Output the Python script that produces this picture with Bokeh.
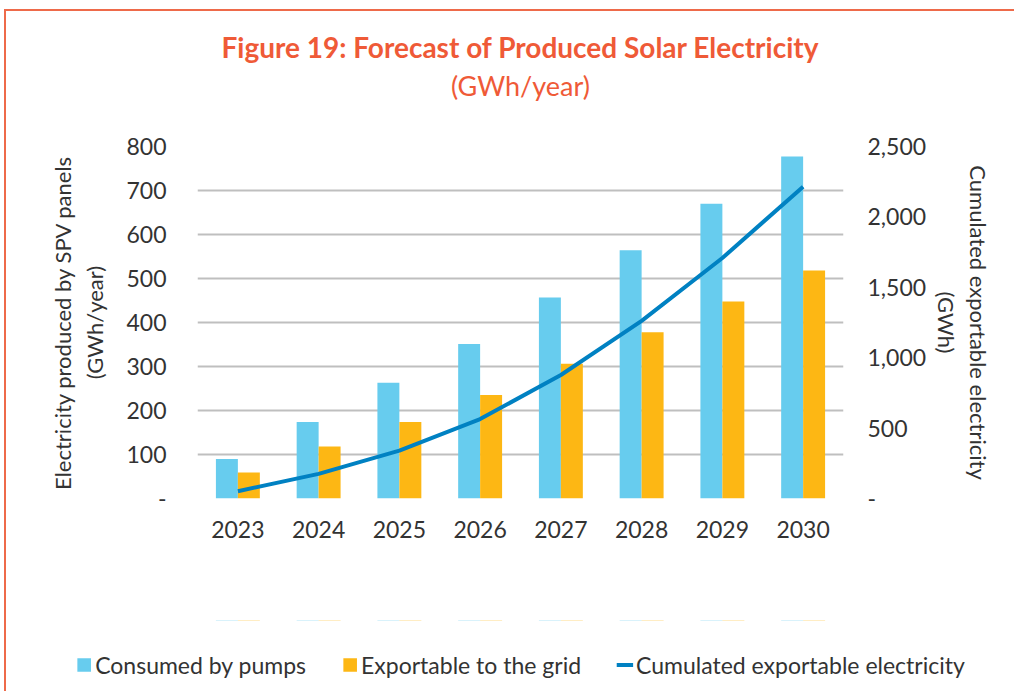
from bokeh.plotting import figure
from bokeh.layouts import column
from bokeh.models import (FactorRange, Range1d, LinearAxis, FixedTicker, Legend,
                          LegendItem, ColumnDataSource, CustomJSTickFormatter, Title)
from bokeh.transform import dodge
from bokeh.embed import file_html
from bokeh.resources import INLINE

years = ["2023", "2024", "2025", "2026", "2027", "2028", "2029", "2030"]
consumed_by_pumps = [90, 174, 263, 351, 457, 564, 670, 777]
exportable_to_grid = [59, 118, 174, 235, 306, 378, 448, 518]
cumulated_exportable = [52, 175, 340, 564, 877, 1262, 1708, 2215]
left_ticks = [0, 100, 200, 300, 400, 500, 600, 700, 800]
right_ticks = [0, 500, 1000, 1500, 2000, 2500]

TITLE_COLOR = "#EF5A37"
BORDER_COLOR = "#EE6A4A"
TEXT_COLOR = "#333333"
CYAN = "#67CCEE"
ORANGE = "#FDB714"
BLUE = "#0081C2"
FONT = "Lato"

src = ColumnDataSource(dict(years=years, consumed=consumed_by_pumps,
                            exportable=exportable_to_grid, cumulated=cumulated_exportable))

# ---------------- main chart ----------------
p = figure(x_range=FactorRange(*years), y_range=Range1d(0, 800),
           frame_width=646, frame_height=352, output_backend="svg", toolbar_location=None,
           min_border_left=191, min_border_right=171, min_border_top=135, min_border_bottom=46)
p.extra_y_ranges = {"cum": Range1d(0, 2500)}
p.outline_line_color = None

p.vbar(x=dodge("years", -0.136, range=p.x_range), top="consumed", width=0.272,
       source=src, fill_color=CYAN, line_color=None)
p.vbar(x=dodge("years", 0.136, range=p.x_range), top="exportable", width=0.272,
       source=src, fill_color=ORANGE, line_color=None)
p.line(x="years", y="cumulated", source=src, y_range_name="cum",
       line_color=BLUE, line_width=4)

fmt = CustomJSTickFormatter(code="return tick == 0 ? '-' : tick.toLocaleString('en-US');")

p.xgrid.grid_line_color = None
p.ygrid.ticker = FixedTicker(ticks=left_ticks)
p.ygrid.grid_line_color = "#BFBFBF"
p.ygrid.grid_line_width = 2

ya = p.yaxis[0]
ya.ticker = FixedTicker(ticks=left_ticks)
ya.formatter = fmt
ya.axis_line_color = None
ya.major_tick_line_color = None
ya.minor_tick_line_color = None
ya.major_label_standoff = 25
ya.major_label_text_font = FONT
ya.major_label_text_font_size = "23px"
ya.major_label_text_color = TEXT_COLOR
ya.axis_label = "Electricity produced by SPV panels\n(GWh/year)"
ya.axis_label_text_font = FONT
ya.axis_label_text_font_style = "normal"
ya.axis_label_text_font_size = "22px"
ya.axis_label_text_color = TEXT_COLOR
ya.axis_label_standoff = 15

ra = LinearAxis(y_range_name="cum", ticker=FixedTicker(ticks=right_ticks), formatter=fmt)
ra.axis_line_color = None
ra.major_tick_line_color = None
ra.minor_tick_line_color = None
ra.major_label_standoff = 18
ra.major_label_text_font = FONT
ra.major_label_text_font_size = "23px"
ra.major_label_text_color = TEXT_COLOR
ra.axis_label = "Cumulated exportable electricity\n(GWh)"
ra.axis_label_text_font = FONT
ra.axis_label_text_font_style = "normal"
ra.axis_label_text_font_size = "22px"
ra.axis_label_text_color = TEXT_COLOR
ra.axis_label_standoff = 4
p.add_layout(ra, "right")

xa = p.xaxis[0]
xa.axis_line_color = None
xa.major_tick_line_color = None
xa.major_label_standoff = 16
xa.major_label_text_font = FONT
xa.major_label_text_font_size = "23px"
xa.major_label_text_color = TEXT_COLOR

p.add_layout(Title(text=" ", text_font_size="1px", standoff=40), "above")
p.add_layout(Title(text="(GWh/year)", align="center", standoff=4,
                   text_font=FONT, text_font_style="normal", text_font_size="27px",
                   text_color=TITLE_COLOR), "above")
p.add_layout(Title(text="Figure 19: Forecast of Produced Solar Electricity", align="center", standoff=2,
                   text_font=FONT, text_font_style="bold", text_font_size="28px",
                   text_color=TITLE_COLOR), "above")

# ---------------- footer: legend and notes ----------------
FOOT_H = 147
f = figure(width=1008, height=FOOT_H, x_range=FactorRange(*years), y_range=Range1d(-2000, -1000),
           x_axis_type=None, y_axis_type=None, output_backend="svg", toolbar_location=None,
           min_border=0, min_border_left=0, min_border_right=0, min_border_top=0, min_border_bottom=0)
f.outline_line_color = None
f.extra_y_ranges = {"cum": Range1d(-5000, -4000)}

# legend keys: the same series; their marks fall outside this strip's ranges
k1 = f.vbar(x=dodge("years", -0.136, range=f.x_range), top="consumed", width=0.272,
            source=src, fill_color=CYAN, line_color=None)
k2 = f.vbar(x=dodge("years", 0.136, range=f.x_range), top="exportable", width=0.272,
            source=src, fill_color=ORANGE, line_color=None)
k3 = f.line(x="years", y="cumulated", source=src, y_range_name="cum",
            line_color=BLUE, line_width=4)

legend = Legend(items=[LegendItem(label="Consumed by pumps", renderers=[k1]),
                       LegendItem(label="Exportable to the grid", renderers=[k2]),
                       LegendItem(label="Cumulated exportable electricity", renderers=[k3])],
                orientation="horizontal", location="top_center",
                padding=0, margin=21, border_line_color=None, background_fill_alpha=0,
                glyph_width=17, glyph_height=17, label_standoff=3, spacing=35, label_height=17,
                label_text_font=FONT, label_text_font_size="23px", label_text_color=TEXT_COLOR)
f.add_layout(legend, "above")

f.add_layout(Title(text="GWh = gigawatt hour, SPV = solar photovoltaic.",
                   align="left", offset=-162, vertical_align="bottom", standoff=2,
                   text_font=FONT, text_font_style="normal", text_font_size="20px",
                   text_color=TEXT_COLOR), "below")
f.add_layout(Title(text="Source: Asian Development Bank consultants.",
                   align="left", offset=-162, vertical_align="top", standoff=17,
                   text_font=FONT, text_font_style="normal", text_font_size="20px",
                   text_color=TEXT_COLOR), "below")

page = column(p, f, spacing=0,
              styles={"margin-left": "4px", "margin-top": "9px",
                      "border-top": "2px solid " + BORDER_COLOR,
                      "border-left": "2px solid " + BORDER_COLOR})

open("out.html", "w").write(file_html(page, INLINE))
